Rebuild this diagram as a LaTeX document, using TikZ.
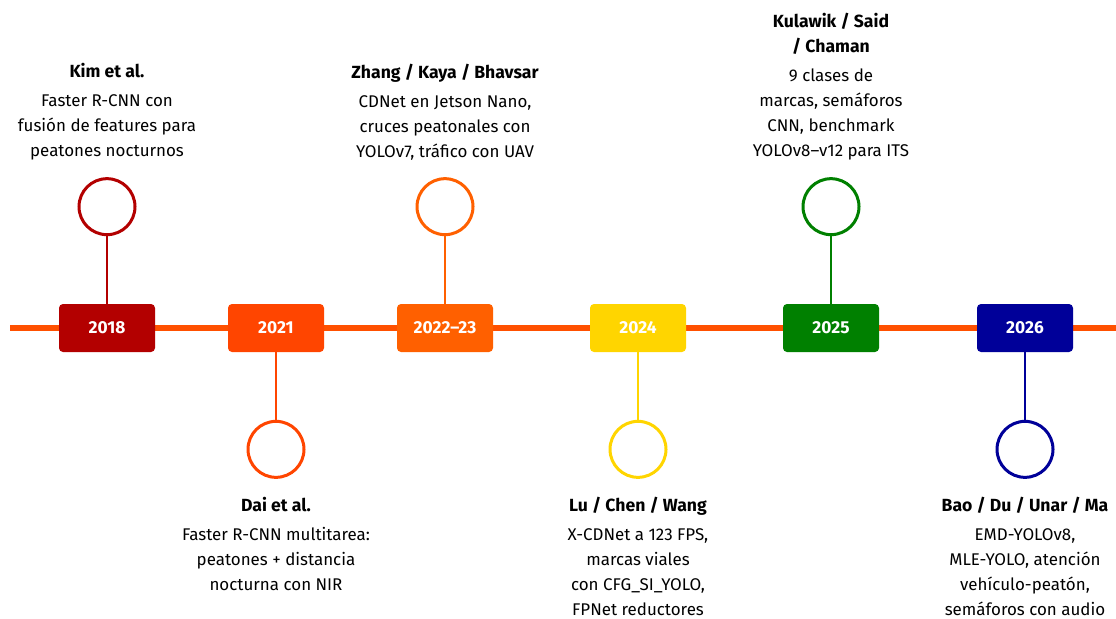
\documentclass[tikz,border=0pt]{standalone}
\usepackage{fontspec}
\setmainfont{Fira Sans}
\usetikzlibrary{positioning}

\definecolor{tline}{HTML}{FF5000}
\definecolor{c2018}{HTML}{B30000}
\definecolor{c2021}{HTML}{FF4500}
\definecolor{c2022}{HTML}{FF6000}
\definecolor{c2024}{HTML}{FFD500}
\definecolor{c2025}{HTML}{008000}
\definecolor{c2026}{HTML}{000099}

\newcommand{\evhead}[1]{{\fontsize{13.2}{18.75}\selectfont\bfseries #1}}

\begin{document}
\begin{tikzpicture}[
  x=0.75pt, y=-0.75pt,
  font=\fontsize{12.7}{18.75}\selectfont,
  node distance=15pt,
  year/.style={fill=#1, rounded corners=3pt, minimum width=72pt, minimum height=36pt, outer sep=0pt, text=white, font=\fontsize{13}{15}\selectfont\bfseries},
  ring/.style={circle, draw=#1, line width=2.25pt, fill=white, minimum size=42pt, inner sep=0pt, outer sep=0pt},
  stem/.style={draw=#1, line width=1.5pt},
  info/.style={align=center, inner sep=0pt},
  axis/.style={draw=tline, line width=4.5pt}
]
\useasboundingbox (0,0) rectangle (1116,618);

\coordinate (tl-start) at (10,328);
\coordinate (tl-end) at (1116,328);
\draw[axis] (tl-start) -- (tl-end);

\node[year=c2018] (y2018) at (107,328) {2018};
\node[year=c2021] (y2021) at (276,328) {2021};
\node[year=c2022] (y2022) at (445,328) {2022--23};
\node[year=c2024] (y2024) at (638,328) {2024};
\node[year=c2025] (y2025) at (831,328) {2025};
\node[year=c2026] (y2026) at (1025,328) {2026};

\node[ring=c2018, above=52pt of y2018] (r2018) {};
\node[ring=c2021, below=52pt of y2021] (r2021) {};
\node[ring=c2022, above=52pt of y2022] (r2022) {};
\node[ring=c2024, below=52pt of y2024] (r2024) {};
\node[ring=c2025, above=52pt of y2025] (r2025) {};
\node[ring=c2026, below=52pt of y2026] (r2026) {};

\draw[stem=c2018] (y2018) -- (r2018);
\draw[stem=c2021] (y2021) -- (r2021);
\draw[stem=c2022] (y2022) -- (r2022);
\draw[stem=c2024] (y2024) -- (r2024);
\draw[stem=c2025] (y2025) -- (r2025);
\draw[stem=c2026] (y2026) -- (r2026);

\node[info, above=13.5pt of r2018] (t2018) {\evhead{Kim et al.}\\[3pt] Faster R-CNN con\\ fusión de features para\\ peatones nocturnos};
\node[info, below=of r2021] (t2021) {\evhead{Dai et al.}\\[3pt] Faster R-CNN multitarea:\\ peatones + distancia\\ nocturna con NIR};
\node[info, above=13.5pt of r2022] (t2022) {\evhead{Zhang / Kaya / Bhavsar}\\[3pt] CDNet en Jetson Nano,\\ cruces peatonales con\\ YOLOv7, tráfico con UAV};
\node[info, below=of r2024] (t2024) {\evhead{Lu / Chen / Wang}\\[3pt] X-CDNet a 123 FPS,\\ marcas viales\\ con CFG\_SI\_YOLO,\\ FPNet reductores};
\node[info, above=13.5pt of r2025] (t2025) {\evhead{Kulawik / Said}\\ \evhead{/ Chaman}\\[3pt] 9 clases de\\ marcas, semáforos\\ CNN, benchmark\\ YOLOv8--v12 para ITS};
\node[info, below=of r2026] (t2026) {\evhead{Bao / Du / Unar / Ma}\\[3pt] EMD-YOLOv8,\\ MLE-YOLO, atención\\ vehículo-peatón,\\ semáforos con audio};
\end{tikzpicture}
\end{document}
